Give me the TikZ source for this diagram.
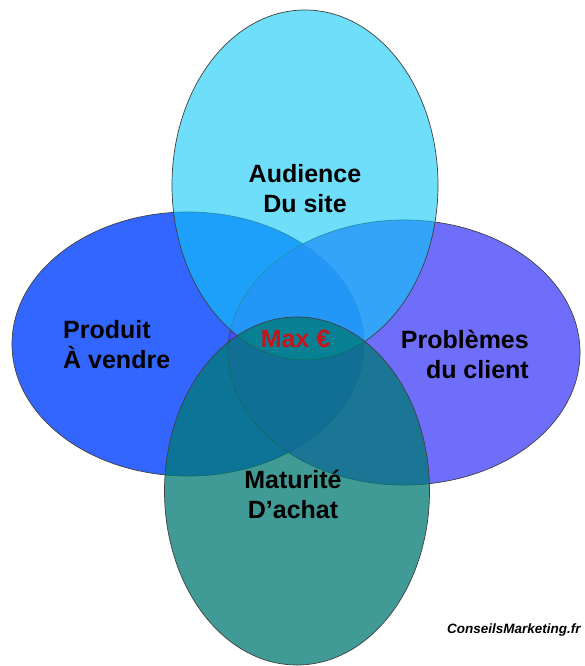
\documentclass[tikz,border=0pt]{standalone}
\usepackage{fontspec}
\setmainfont{Liberation Sans}
\usetikzlibrary{shapes.geometric}

\definecolor{audiencecol}{RGB}{13,200,247}
\definecolor{produitcol}{RGB}{51,102,255}
\definecolor{problemecol}{RGB}{74,74,249}
\definecolor{maturitecol}{RGB}{0,121,115}
\definecolor{maxcol}{RGB}{200,20,25}

\tikzset{
  zone/.style={ellipse, draw=black!75, line width=0.7pt, inner sep=0pt},
  label/.style={font=\fontsize{25}{30}\selectfont\bfseries, inner sep=0pt}
}

\begin{document}
\begin{tikzpicture}[x=1pt, y=-1pt]
    \useasboundingbox (0,0) rectangle (585,666);

    % Ellipses
    \node[zone, fill=produitcol, minimum width=352pt, minimum height=264pt] (produit) at (188,344) {};
    \node[zone, fill=problemecol, fill opacity=0.8, minimum width=352pt, minimum height=265pt] (probleme) at (404,352.5) {};
    \node[zone, fill=audiencecol, fill opacity=0.6, minimum width=266pt, minimum height=350pt] (audience) at (305,185) {};
    \node[zone, fill=maturitecol, fill opacity=0.75, minimum width=265pt, minimum height=348pt] (maturite) at (297,491) {};

    % Labels (base = last line)
    \node[label, align=center, anchor=base] (taudience) at (305,212) {Audience\\Du site};
    \node[label, align=left, anchor=base west] (tproduit) at (63,368) {Produit\\À vendre};
    \node[label, align=right, anchor=base east] (tprobleme) at (529,378) {Problèmes\\du client};
    \node[label, align=center, anchor=base] (tmaturite) at (293,518) {Maturité\\D’achat};
    \node[label, text=maxcol, anchor=base] (tmax) at (295.5,347) {Max €};

    % Source
    \node[font=\fontsize{13.5}{16}\selectfont\bfseries\itshape, inner sep=0pt, anchor=base west] (source) at (447,633) {ConseilsMarketing.fr};
\end{tikzpicture}
\end{document}
